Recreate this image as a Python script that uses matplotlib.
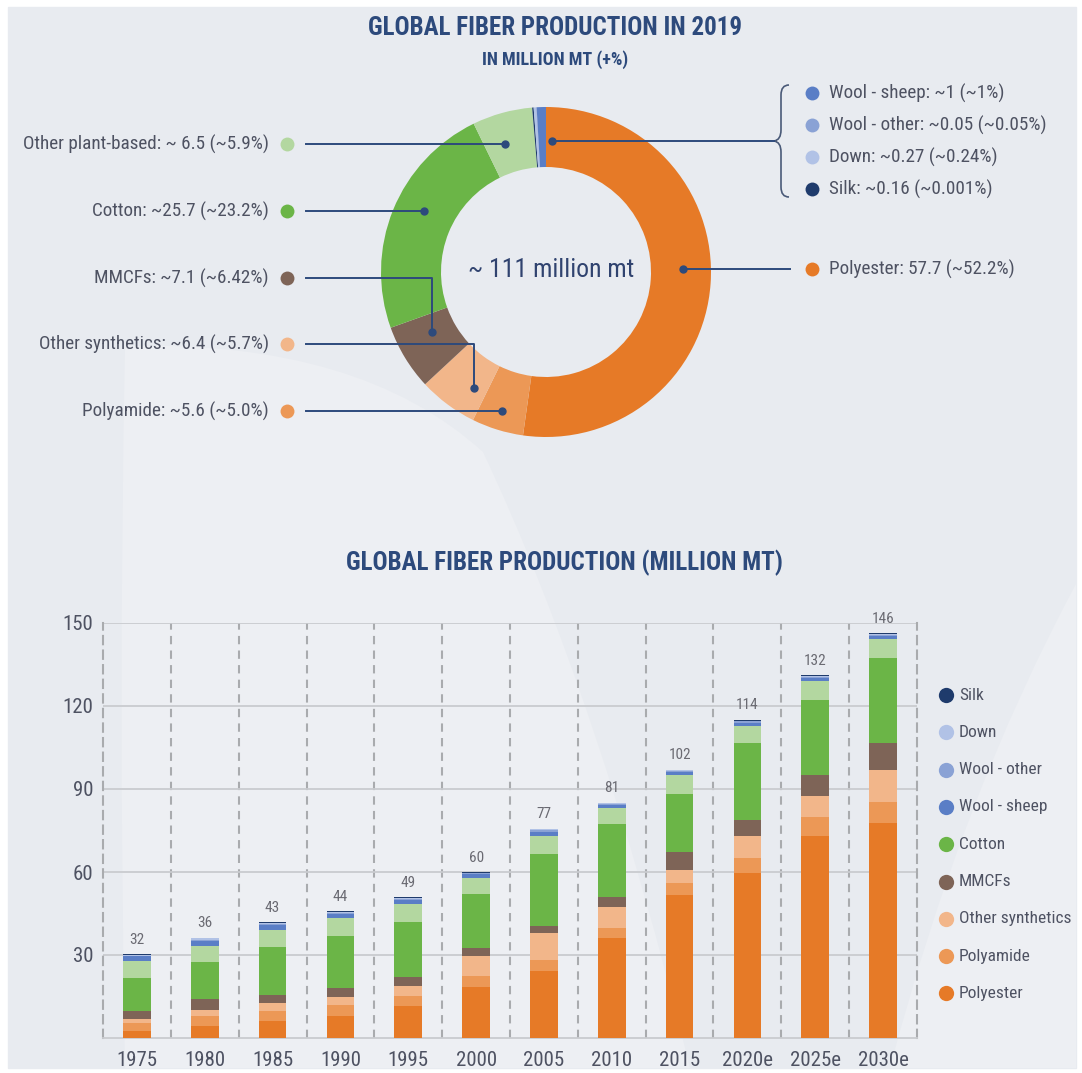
import matplotlib
matplotlib.use('Agg')
import matplotlib.pyplot as plt
from matplotlib.patches import Rectangle, PathPatch
from matplotlib.path import Path
import numpy as np

plt.rcParams['font.family'] = ['Roboto Condensed', 'PT Sans Narrow', 'DejaVu Sans']

# ---- donut data (2019) ----
pie_labels = ['Polyester', 'Polyamide', 'Other synthetics', 'MMCFs', 'Cotton',
              'Other plant-based', 'Silk', 'Down', 'Wool - other', 'Wool - sheep']
pie_values = [57.7, 5.6, 6.4, 7.1, 25.7, 6.5, 0.16, 0.27, 0.05, 1.0]
pie_texts = {
    'Other plant-based': 'Other plant-based: ~ 6.5 (~5.9%)',
    'Cotton': 'Cotton: ~25.7 (~23.2%)',
    'MMCFs': 'MMCFs: ~7.1 (~6.42%)',
    'Other synthetics': 'Other synthetics: ~6.4 (~5.7%)',
    'Polyamide': 'Polyamide: ~5.6 (~5.0%)',
    'Polyester': 'Polyester: 57.7 (~52.2%)',
    'Wool - sheep': 'Wool - sheep: ~1 (~1%)',
    'Wool - other': 'Wool - other: ~0.05 (~0.05%)',
    'Down': 'Down: ~0.27 (~0.24%)',
    'Silk': 'Silk: ~0.16 (~0.001%)',
}
total_text = '~ 111 million mt'

colors = {
    'Polyester': '#e67a27',
    'Polyamide': '#ec9856',
    'Other synthetics': '#f2b68a',
    'MMCFs': '#7e6457',
    'Cotton': '#6bb547',
    'Other plant-based': '#b3d7a0',
    'Wool - sheep': '#5a7ec6',
    'Wool - other': '#8aa2d5',
    'Down': '#b1c2e6',
    'Silk': '#1f3b6c',
}

# ---- stacked bar data ----
years = ['1975', '1980', '1985', '1990', '1995', '2000', '2005', '2010', '2015',
         '2020e', '2025e', '2030e']
total_labels = [32, 36, 43, 44, 49, 60, 77, 81, 102, 114, 132, 146]
polyester = [2.4, 4.5, 6.0, 7.8, 11.4, 18.3, 24.3, 36.2, 51.6, 59.7, 72.9, 77.7]
polyamide = [3.0, 3.4, 3.6, 4.2, 3.9, 4.1, 3.9, 3.4, 4.5, 5.5, 7.0, 7.6]
other_syn = [1.4, 2.2, 3.0, 2.8, 3.4, 7.2, 9.6, 7.6, 4.8, 7.7, 7.5, 11.7]
mmcfs = [3.1, 3.9, 2.8, 3.3, 3.3, 3.1, 2.6, 3.6, 6.4, 6.0, 7.6, 9.6]
cotton = [11.7, 13.5, 17.5, 18.9, 19.9, 19.5, 26.0, 26.4, 20.8, 27.8, 27.1, 30.7]
other_plant = [6.4, 5.8, 6.0, 6.4, 6.7, 5.8, 6.5, 6.0, 7.1, 6.0, 7.0, 6.9]
wool_sheep = [1.5, 1.9, 1.8, 1.5, 1.4, 1.2, 1.7, 1.1, 1.0, 1.3, 1.1, 1.2]
wool_other = [0.3, 0.4, 0.4, 0.3, 0.3, 0.3, 0.4, 0.3, 0.3, 0.4, 0.3, 0.4]
down = [0.3, 0.4, 0.4, 0.3, 0.3, 0.3, 0.4, 0.3, 0.3, 0.3, 0.3, 0.3]
silk = [0.3, 0.3, 0.3, 0.3, 0.3, 0.2, 0.3, 0.2, 0.2, 0.3, 0.3, 0.3]

bar_series = [('Polyester', polyester), ('Polyamide', polyamide),
              ('Other synthetics', other_syn), ('MMCFs', mmcfs), ('Cotton', cotton),
              ('Other plant-based', other_plant), ('Wool - sheep', wool_sheep),
              ('Wool - other', wool_other), ('Down', down), ('Silk', silk)]
legend_order = ['Silk', 'Down', 'Wool - other', 'Wool - sheep', 'Cotton', 'MMCFs',
                'Other synthetics', 'Polyamide', 'Polyester']

TITLE = '#2d4a7c'
TXT = '#4e5262'
LINE = '#2d4a7c'
W, H = 1082, 1073

fig = plt.figure(figsize=(W / 100, H / 100), dpi=100, facecolor='white')

# background / overlay axes in pixel coordinates (y measured from top)
bg = fig.add_axes([0, 0, 1, 1])


def Y(py):
    return H - py


bg.add_patch(Rectangle((8, Y(1068)), 1068, 1061, color='#e8ebf0', zorder=0))
# faint leaf shapes
leaf = Path([(125, Y(1068)), (118, Y(700)), (125, Y(346)),
             (360, Y(340)), (483, Y(452)),
             (600, Y(700)), (690, Y(1068)), (125, Y(1068))],
            [Path.MOVETO, Path.CURVE3, Path.CURVE3,
             Path.CURVE3, Path.CURVE3,
             Path.CURVE3, Path.CURVE3, Path.CLOSEPOLY])
bg.add_patch(PathPatch(leaf, facecolor='#edeff3', edgecolor='none', zorder=0.5))
leaf2 = Path([(1076, Y(584)), (960, Y(800)), (890, Y(1068)), (1076, Y(1068)),
              (1076, Y(584))],
             [Path.MOVETO, Path.CURVE3, Path.CURVE3, Path.LINETO, Path.CLOSEPOLY])
bg.add_patch(PathPatch(leaf2, facecolor='#edeff3', edgecolor='none', zorder=0.5))

# titles
bg.text(555, Y(28), 'GLOBAL FIBER PRODUCTION IN 2019', ha='center', va='center',
        fontsize=18, fontweight='bold', color=TITLE)
bg.text(555, Y(60), 'IN MILLION MT (+%)', ha='center', va='center',
        fontsize=13, fontweight='bold', color=TITLE)
bg.text(564, Y(563), 'GLOBAL FIBER PRODUCTION (MILLION MT)', ha='center', va='center',
        fontsize=18, fontweight='bold', color=TITLE)

# donut
cx, cy, R = 546, Y(272), 165
bg.pie(pie_values, colors=[colors[k] for k in pie_labels], startangle=90,
       counterclock=False, radius=R, center=(cx, cy),
       wedgeprops=dict(width=60, edgecolor='none'))
bg.set_xlim(0, W)
bg.set_ylim(0, H)
bg.set_aspect('auto')
bg.axis('off')
bg.text(cx + 5, cy + 2, total_text, ha='center', va='center', fontsize=18.5,
        color='#30436f')

# left-side labels: (name, label y, leader path points)
left = [
    ('Other plant-based', 144, [(306, 144), (505, 144)]),
    ('Cotton', 211, [(306, 211), (424, 211)]),
    ('MMCFs', 278, [(306, 278), (432, 278), (432, 332)]),
    ('Other synthetics', 344, [(306, 344), (474, 344), (474, 388)]),
    ('Polyamide', 411, [(306, 411), (502, 411)]),
]
for name, ly, pts in left:
    bg.text(269, Y(ly), pie_texts[name], ha='right', va='center', fontsize=13.8,
            color=TXT)
    bg.plot([287], [Y(ly)], 'o', ms=10, color=colors[name], mec='none')
    xs = [p[0] for p in pts]
    ys = [Y(p[1]) for p in pts]
    bg.plot(xs, ys, color=LINE, lw=1.4, zorder=3)
    bg.plot([xs[-1]], [ys[-1]], 'o', ms=5, color=LINE, zorder=3)

# polyester (right)
bg.plot([683, 790], [Y(269), Y(269)], color=LINE, lw=1.4, zorder=3)
bg.plot([683], [Y(269)], 'o', ms=5, color=LINE, zorder=3)
bg.plot([812], [Y(269)], 'o', ms=10, color=colors['Polyester'], mec='none')
bg.text(829, Y(269), pie_texts['Polyester'], ha='left', va='center', fontsize=13.8,
        color=TXT)

# small animal fibres group with brace
group = ['Wool - sheep', 'Wool - other', 'Down', 'Silk']
for i, name in enumerate(group):
    gy = 93 + i * 32
    bg.plot([812], [Y(gy)], 'o', ms=10, color=colors[name], mec='none')
    bg.text(829, Y(gy), pie_texts[name], ha='left', va='center', fontsize=13.8,
            color=TXT)
brace = Path([(789, Y(85)), (781, Y(85)), (781, Y(95)),
              (781, Y(130)), (781, Y(140)), (774, Y(141)),
              (781, Y(142)), (781, Y(152)),
              (781, Y(187)), (781, Y(197)), (789, Y(197))],
             [Path.MOVETO, Path.CURVE3, Path.CURVE3,
              Path.LINETO, Path.CURVE3, Path.CURVE3,
              Path.CURVE3, Path.CURVE3,
              Path.LINETO, Path.CURVE3, Path.CURVE3])
bg.add_patch(PathPatch(brace, facecolor='none', edgecolor='#4a5a78', lw=1.2))
bg.plot([552, 774], [Y(141), Y(141)], color=LINE, lw=1.4, zorder=3)
bg.plot([552], [Y(141)], 'o', ms=5, color=LINE, zorder=3)

# bar legend
for i, name in enumerate(legend_order):
    ly = 695 + i * 37.3
    bg.plot([946], [Y(ly)], 'o', ms=11, color=colors[name], mec='none')
    bg.text(959, Y(ly), name, ha='left', va='center', fontsize=12.5, color=TXT)

# ---- stacked bar chart ----
ax = fig.add_axes([103 / W, 1 - 1038 / H, (917 - 103) / W, (1038 - 623) / H])
ax.set_facecolor('none')
x = np.arange(len(years))
bottom = np.zeros(len(years))
for name, vals in bar_series:
    ax.bar(x, vals, bottom=bottom, width=0.41, color=colors[name], zorder=3)
    bottom += np.array(vals)
for xi, tot, lab in zip(x, bottom, total_labels):
    ax.text(xi, tot + 5.2, str(lab), ha='center', va='center', fontsize=11,
            color='#6a6a72', clip_on=False, zorder=4)

ax.set_xlim(-0.5, len(years) - 0.5)
ax.set_ylim(0, 150)
ax.set_yticks([30, 60, 90, 120, 150])
ax.set_xticks(x)
ax.set_xticklabels(years)
ax.tick_params(length=0, labelsize=15, labelcolor=TXT)
ax.tick_params(axis='y', pad=7)
ax.tick_params(axis='x', pad=9)
ax.yaxis.grid(True, color='#c9cbcf', lw=1.3, zorder=1)
for xv in np.arange(0.5, len(years) - 1, 1.0):
    ax.axvline(xv, color='#a9abae', lw=1.5, ls=(0, (4, 3)), zorder=1)
ax.spines['top'].set_visible(False)
for side in ['left', 'right']:
    ax.spines[side].set_color('#a9abae')
    ax.spines[side].set_linewidth(1.5)
    ax.spines[side].set_linestyle((0, (4, 3)))
ax.spines['bottom'].set_color('#c9cbcf')
ax.spines['bottom'].set_linewidth(1.3)

fig.savefig('out.png', dpi=100, facecolor='white')
